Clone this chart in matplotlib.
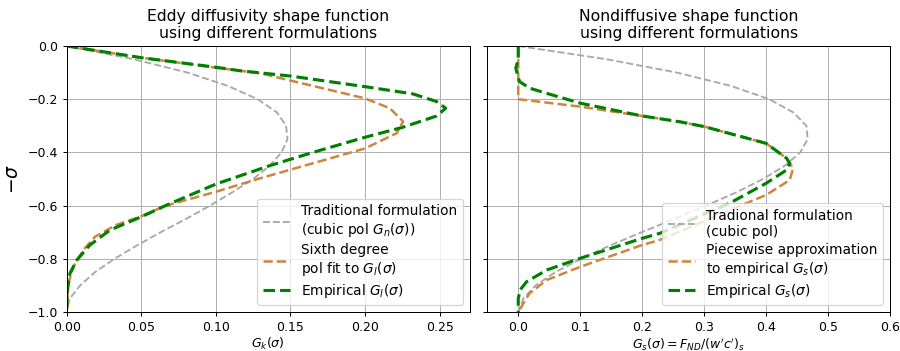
"""
Shape functions for eddy diffusivity and nondiffusive flux,
comparing the traditional cubic polynomial with empirical profiles.
"""

import numpy as np
from matplotlib import pyplot

# Traditional cubic polynomial, read at sigma = 0, 0.05, ..., 1.0
sigma_cubic = [0.0, 0.05, 0.10, 0.15, 0.20, 0.25, 0.30, 0.35, 0.40, 0.45, 0.50,
               0.55, 0.60, 0.65, 0.70, 0.75, 0.80, 0.85, 0.90, 0.95, 1.0]
gk_cubic = [0.0, 0.045, 0.081, 0.108, 0.128, 0.141, 0.147, 0.148, 0.144, 0.136, 0.125,
            0.111, 0.096, 0.080, 0.063, 0.047, 0.032, 0.019, 0.009, 0.002, 0.0]
gs_cubic = [0.0, 0.143, 0.256, 0.343, 0.405, 0.444, 0.465, 0.467, 0.455, 0.430, 0.395,
            0.352, 0.303, 0.252, 0.199, 0.148, 0.101, 0.060, 0.028, 0.008, 0.0]

# Sixth degree polynomial fit to G_l
sigma_poly = [0.0, 0.044, 0.080, 0.103, 0.130, 0.197, 0.234, 0.284, 0.328, 0.385, 0.460,
              0.500, 0.548, 0.601, 0.640, 0.673, 0.717, 0.767, 0.830, 0.892, 1.0]
gk_poly = [0.0, 0.050, 0.098, 0.130, 0.150, 0.200, 0.2166, 0.2255, 0.2211, 0.200, 0.153,
           0.128, 0.100, 0.066, 0.050, 0.033, 0.019, 0.0111, 0.0045, 0.0011, 0.0]

# Empirical G_l
sigma_emp_k = [0.0, 0.044, 0.080, 0.093, 0.113, 0.153, 0.180, 0.209, 0.234, 0.263, 0.306,
               0.343, 0.400, 0.450, 0.519, 0.598, 0.642, 0.692, 0.748, 0.805, 0.855,
               0.917, 1.0]
gk_emp = [0.0, 0.050, 0.100, 0.116, 0.150, 0.200, 0.232, 0.248, 0.254, 0.248, 0.225,
          0.200, 0.165, 0.136, 0.100, 0.067, 0.050, 0.029, 0.0156, 0.0067, 0.0022,
          0.0005, 0.0]

# Piecewise approximation to empirical G_s
sigma_pw = [0.0, 0.196, 0.200, 0.228, 0.263, 0.285, 0.303, 0.366, 0.422, 0.460, 0.504,
            0.560, 0.591, 0.729, 0.748, 0.830, 0.880, 0.930, 1.0]
gs_pw = [0.0, 0.0, 0.0, 0.100, 0.200, 0.261, 0.300, 0.400, 0.433, 0.4435, 0.438,
         0.400, 0.368, 0.2285, 0.200, 0.100, 0.0457, 0.018, 0.0]

# Empirical G_s
sigma_emp_s = [0.0, 0.050, 0.084, 0.134, 0.159, 0.178, 0.215, 0.263, 0.285, 0.303, 0.366,
               0.422, 0.441, 0.466, 0.516, 0.591, 0.704, 0.723, 0.798, 0.842, 0.886,
               0.917, 0.950, 1.0]
gs_emp = [0.0, 0.0, -0.004, 0.002, 0.019, 0.046, 0.100, 0.200, 0.261, 0.300, 0.400,
          0.433, 0.438, 0.433, 0.400, 0.341, 0.2285, 0.200, 0.100, 0.046, 0.0135,
          0.003, 0.0, 0.0]

fig, (ax1, ax2) = pyplot.subplots(1, 2, figsize=(10.0, 3.9), sharey=True)
fig.subplots_adjust(left=0.0741, right=0.989, bottom=0.111, top=0.869, wspace=0.044)

# Left panel: eddy diffusivity
ax1.plot(gk_cubic, -np.array(sigma_cubic), color='darkgray', linestyle='--', linewidth=1.5,
         label='Traditional formulation\n(cubic pol $G_n(\\sigma)$)')
ax1.plot(gk_poly, -np.array(sigma_poly), color='peru', linestyle='--', linewidth=2.0,
         label='Sixth degree\npol fit to $G_l(\\sigma)$')
ax1.plot(gk_emp, -np.array(sigma_emp_k), color='green', linestyle='--', linewidth=2.5,
         label='Empirical $G_l(\\sigma)$')
ax1.set_title('Eddy diffusivity shape function\nusing different formulations', fontsize=12.5)
ax1.set_xlabel('$G_k(\\sigma)$', labelpad=2)
ax1.set_ylabel('$-\\sigma$', fontsize=15)
ax1.set_xlim(0.0, 0.27)
ax1.set_ylim(-1.0, 0.0)
ax1.set_xticks([0.0, 0.05, 0.10, 0.15, 0.20, 0.25])
ax1.grid()
ax1.legend(loc='lower right', fontsize=11, labelspacing=0.3)

# Right panel: nondiffusive flux
ax2.plot(gs_cubic, -np.array(sigma_cubic), color='darkgray', linestyle='--', linewidth=1.5,
         label='Tradional formulation\n(cubic pol)')
ax2.plot(gs_pw, -np.array(sigma_pw), color='peru', linestyle='--', linewidth=2.0,
         label='Piecewise approximation\nto empirical $G_s(\\sigma)$')
ax2.plot(gs_emp, -np.array(sigma_emp_s), color='green', linestyle='--', linewidth=2.5,
         label='Empirical $G_s(\\sigma)$')
ax2.set_title('Nondiffusive shape function\nusing different formulations', fontsize=12.5)
ax2.set_xlabel("$G_s(\\sigma) = F_{ND}/(w'c')_s$", labelpad=2)
ax2.set_xlim(-0.05, 0.6)
ax2.set_xticks([0.0, 0.1, 0.2, 0.3, 0.4, 0.5, 0.6])
ax2.grid()
ax2.legend(loc='lower right', fontsize=11, labelspacing=0.3)

fig.savefig('out.png', dpi=90)
